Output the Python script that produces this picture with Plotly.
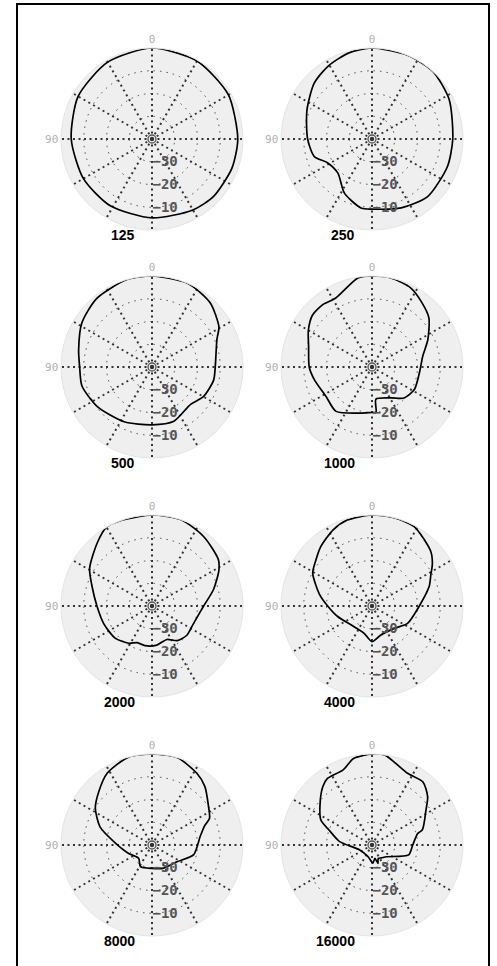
import plotly.graph_objects as go

# ---------------- data (angle in degrees, level in dB) ----------------
freq_labels = ["125", "250", "500", "1000", "2000", "4000", "8000", "16000"]

theta_125 = [0, 30, 60, 90, 120, 148, 180, 210, 227, 250, 270, 300, 330, 360]
db_125 = [0, -1, -2.5, -4.5, -5.2, -5.4, -5.3, -4, -3, -2.6, -2.3, -1.2, -0.4, 0]

theta_250 = [0, 15, 31, 46, 66, 90, 107, 118, 135, 153, 171, 180, 203, 224, 250, 270, 297, 318, 337, 360]
db_250 = [0, -0.8, -2.6, -4.7, -8.7, -11.7, -13.5, -17.8, -18.8, -13.3, -9.3, -9.2, -7.1, -4.8, -4.7, -4.5, -1.9, 0, 0, 0]

theta_500 = [0, 16, 39, 58, 77, 90, 105, 126, 153, 180, 202, 226, 240, 258, 270, 293, 301, 318, 337, 360]
db_500 = [0, 0, -1.3, -3.6, -6.9, -8.2, -8.1, -10.3, -13, -14.6, -14.3, -16.4, -13.9, -12.3, -12.2, -9, -5.7, -1.9, 0, 0]

theta_1000 = [0, 9, 28, 38, 49, 60, 72, 90, 102, 123, 141, 165, 180, 185, 187, 212, 226, 242, 263, 282, 296, 311, 323, 334, 348, 360]
db_1000 = [0, -0.4, -5.8, -5.1, -5.3, -7.7, -10.7, -12.4, -14, -16, -14.9, -19, -20, -20, -25.8, -24, -20.4, -18.9, -19, -17.2, -12.7, -6.9, -4, -1.3, 0, 0]

theta_2000 = [0, 20, 30, 41, 59, 72, 90, 110, 131, 148, 158, 170, 187, 204, 216, 230, 247, 270, 285, 298, 305, 323, 341, 360]
db_2000 = [0, 0, 0, -3.3, -8, -12.3, -15.8, -17.4, -18.5, -20.7, -22.6, -22.3, -22.7, -23.9, -21.2, -20, -20.2, -17.3, -12, -6.7, -4.4, -2, 0, 0]

theta_4000 = [0, 16, 27, 41, 51, 61, 77, 90, 107, 140, 164, 180, 197, 225, 244, 270, 289, 298, 305, 313, 332, 346, 360]
db_4000 = [0, -0.7, -2.4, -5.6, -8.2, -10.2, -16.2, -20.5, -24.2, -28, -27.5, -24.3, -26.7, -26.1, -22.6, -19.2, -13.4, -10.7, -7.6, -4.7, -0.5, 0, 0]

theta_8000 = [0, 15, 32, 45, 57, 71, 87, 110, 135, 152, 180, 207, 236, 257, 280, 290, 295, 304, 318, 328, 344, 360]
db_8000 = [0, 0, -2.8, -6.9, -10.3, -15.9, -23.9, -29.1, -31.7, -29.2, -29.7, -28.6, -26.8, -21.2, -18.5, -15.4, -12.1, -10, -5.3, -2.8, 0, 0]

theta_16000 = [0, 12, 21, 34, 40, 49, 64, 71, 84, 112, 161, 183, 192, 198, 205, 216, 231, 255, 270, 284, 287, 303, 311, 321, 334, 344, 352, 360]
db_16000 = [0, -1.1, -4.6, -4.8, -6.4, -9.9, -15, -20.1, -25.7, -34.2, -34.6, -32, -34, -31.5, -33.5, -33, -31.8, -23.3, -22.1, -19.3, -16.8, -11.7, -7.6, -4.4, -4.8, -2.6, 0, 0]

series = [
    (theta_125, db_125), (theta_250, db_250),
    (theta_500, db_500), (theta_1000, db_1000),
    (theta_2000, db_2000), (theta_4000, db_4000),
    (theta_8000, db_8000), (theta_16000, db_16000),
]

radial_range = [-40, 0]
radial_ticks = [-30, -20, -10]
angle_ticks = list(range(0, 360, 30))
angle_text = ["0" if a == 0 else ("90" if a == 90 else "") for a in angle_ticks]

# ---------------- layout geometry ----------------
W, H = 497, 966
R = 91
centers_x = [152, 372]
centers_y = [139, 367, 606, 845]

fig = go.Figure()
annotations = []
layout_polars = {}

for i, (th, db) in enumerate(series):
    row, col = divmod(i, 2)
    cx, cy = centers_x[col], centers_y[row]
    name = "polar" if i == 0 else f"polar{i+1}"
    layout_polars[name] = dict(
        domain=dict(x=[(cx - R) / W, (cx + R) / W],
                    y=[(H - cy - R) / H, (H - cy + R) / H]),
        bgcolor="#efefef",
        angularaxis=dict(
            rotation=90, direction="counterclockwise",
            tickmode="array", tickvals=angle_ticks, ticktext=angle_text,
            ticks="", showline=True, linecolor="#e4e4e4", linewidth=1,
            showgrid=True, gridcolor="#333333", gridwidth=1.6, griddash="2px,3.5px",
            tickfont=dict(family="DejaVu Sans Mono", size=11, color="#b0b0b0"),
        ),
        radialaxis=dict(
            range=radial_range, tickmode="array", tickvals=radial_ticks,
            angle=-90, tickangle=-90, side="counterclockwise",
            showline=False, ticks="",
            showgrid=True, gridcolor="#4a4a4a", gridwidth=1.3, griddash="1.5px,5px",
            tickfont=dict(family="DejaVu Sans Mono", size=14, color="#555555", weight="bold"),
        ),
    )
    fig.add_trace(go.Scatterpolar(
        r=db, theta=th, mode="lines", subplot=name,
        line=dict(color="black", width=1.7, shape="spline", smoothing=0.7),
        hoverinfo="skip",
    ))
    fig.add_trace(go.Scatterpolar(
        r=[radial_range[0]], theta=[0], mode="markers", subplot=name,
        marker=dict(symbol="circle-open", size=8, color="#555555", line=dict(width=1.3)),
        hoverinfo="skip",
    ))
    annotations.append(dict(
        text=freq_labels[i], x=(cx - 15) / W, y=(H - cy - 96) / H,
        xref="paper", yref="paper", xanchor="right", yanchor="middle",
        showarrow=False,
        font=dict(family="Liberation Sans", size=14, color="black", weight="bold"),
    ))

fig.update_layout(
    width=W, height=H, autosize=False,
    margin=dict(l=0, r=0, t=0, b=0),
    paper_bgcolor="white", plot_bgcolor="white",
    showlegend=False,
    annotations=annotations,
    shapes=[dict(type="rect", xref="paper", yref="paper",
                 x0=17 / W, x1=489 / W, y0=-0.02, y1=(H - 4) / H,
                 line=dict(color="black", width=2), fillcolor="rgba(0,0,0,0)")],
    **layout_polars,
)

fig.write_html("out.html", config={"displayModeBar": False},
               post_script="document.body.style.margin='0';document.body.style.overflow='hidden';")
